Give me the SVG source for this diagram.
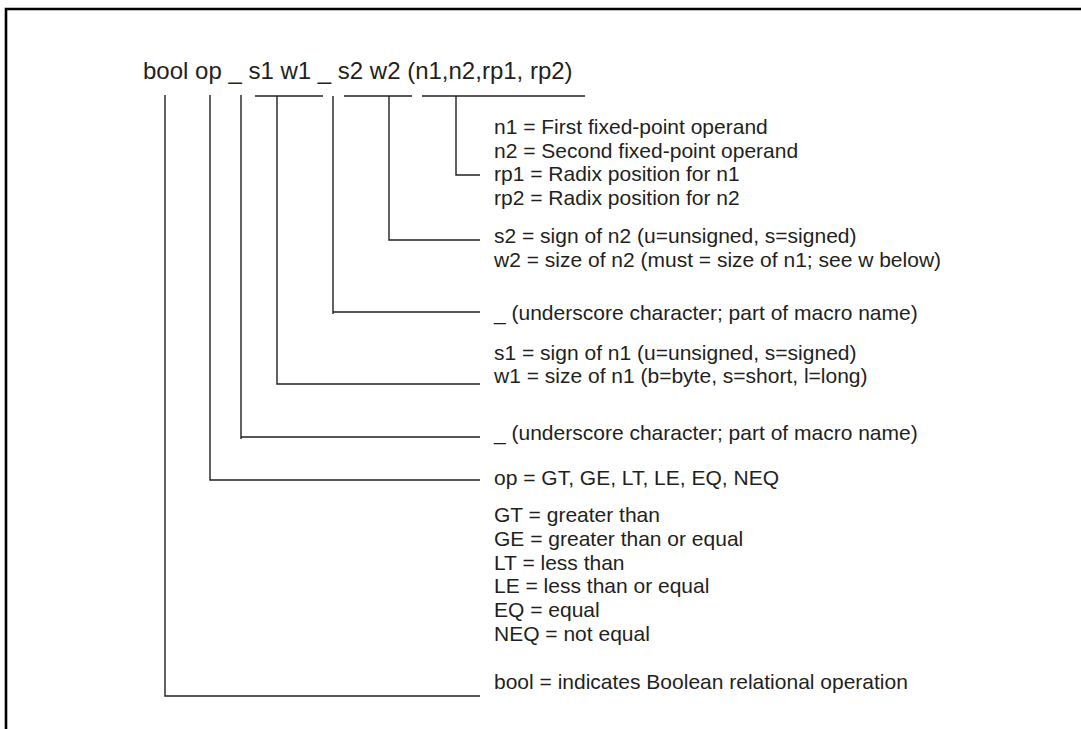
<svg xmlns="http://www.w3.org/2000/svg" width="1081" height="729" viewBox="0 0 1081 729">
<style>
.t{font-family:"Liberation Sans",Arial,sans-serif;fill:#231f20}
.title{font-size:24px}
.b{font-size:21px}
.c{fill:none;stroke:#231f20;stroke-width:1.4}
.frame{fill:none;stroke:#000;stroke-width:2.6}
</style>
<rect width="1081" height="729" fill="#fff"/>
<path class="frame" d="M6,729 V9 H1081"/>
<g id="title"><text class="t title" x="143" y="79">bool op _ s1 w1 _ s2 w2 (n1,n2,rp1, rp2)</text></g>
<g id="connectors">
<path class="c" d="M255,96 H323 M344,96 H412 M422,96 H585"/>
<path class="c" d="M456,96 V175 H480"/>
<path class="c" d="M389,96 V240 H480"/>
<path class="c" d="M333,96 V314 M333,312 H480"/>
<path class="c" d="M277,96 V384 H480"/>
<path class="c" d="M241,95 V439 M241,437 H480"/>
<path class="c" d="M210,95 V480 H480"/>
<path class="c" d="M165,95 V696 H480"/>
</g>
<g id="n-params">
<text class="t b" x="494" y="134">n1 = First fixed-point operand</text>
<text class="t b" x="494" y="157.5">n2 = Second fixed-point operand</text>
<text class="t b" x="494" y="181">rp1 = Radix position for n1</text>
<text class="t b" x="494" y="204.5">rp2 = Radix position for n2</text>
</g>
<g id="s2w2">
<text class="t b" x="494" y="243">s2 = sign of n2 (u=unsigned, s=signed)</text>
<text class="t b" x="494" y="266.5">w2 = size of n2 (must = size of n1; see w below)</text>
</g>
<g id="underscore2">
<text class="t b" x="494" y="320">_ (underscore character; part of macro name)</text>
</g>
<g id="s1w1">
<text class="t b" x="494" y="359.5">s1 = sign of n1 (u=unsigned, s=signed)</text>
<text class="t b" x="494" y="383.3">w1 = size of n1 (b=byte, s=short, l=long)</text>
</g>
<g id="underscore1">
<text class="t b" x="494" y="440">_ (underscore character; part of macro name)</text>
</g>
<g id="op">
<text class="t b" x="494" y="485">op = GT, GE, LT, LE, EQ, NEQ</text>
<text class="t b" x="494" y="522">GT = greater than</text>
<text class="t b" x="494" y="545.8">GE = greater than or equal</text>
<text class="t b" x="494" y="569.6">LT = less than</text>
<text class="t b" x="494" y="593.4">LE = less than or equal</text>
<text class="t b" x="494" y="617.2">EQ = equal</text>
<text class="t b" x="494" y="641">NEQ = not equal</text>
</g>
<g id="bool">
<text class="t b" x="494" y="689">bool = indicates Boolean relational operation</text>
</g>
</svg>
